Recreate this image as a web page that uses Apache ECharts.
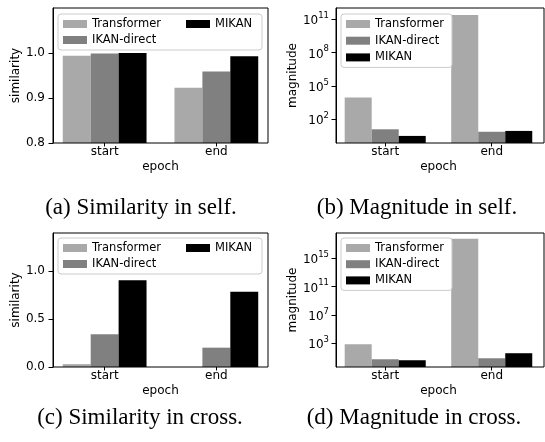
<!DOCTYPE html>
<html>
<head>
<meta charset="utf-8">
<script src="https://cdn.jsdelivr.net/npm/echarts@6/dist/echarts.min.js"></script>
<style>
html,body{margin:0;padding:0;background:#fff;}
#chart{width:545px;height:442px;}
</style>
</head>
<body>
<div id="chart"></div>
<script>
// ---------- data ----------
const categories = ['start', 'end'];
const seriesNames = ['Transformer', 'IKAN-direct', 'MIKAN'];

const selfSimilarityTransformer = [0.994, 0.923];
const selfSimilarityIkan = [0.999, 0.959];
const selfSimilarityMikan = [1.0, 0.993];

const selfMagnitudeTransformer = [9000, 2.4e11];
const selfMagnitudeIkan = [12.6, 7.6];
const selfMagnitudeMikan = [3.2, 9];

const crossSimilarityTransformer = [0.03, 0.0];
const crossSimilarityIkan = [0.342, 0.202];
const crossSimilarityMikan = [0.907, 0.785];

const crossMagnitudeTransformer = [720, 5.4e17];
const crossMagnitudeIkan = [5.5, 7.6];
const crossMagnitudeMikan = [4, 39];

const selfSimilarityTicks = [0.8, 0.9, 1.0];
const crossSimilarityTicks = [0.0, 0.5, 1.0];
const selfMagnitudeTicks = [1e2, 1e5, 1e8, 1e11];
const crossMagnitudeTicks = [1e3, 1e7, 1e11, 1e15];

const captions = ['(a) Similarity in self.', '(b) Magnitude in self.', '(c) Similarity in cross.', '(d) Magnitude in cross.'];

// ---------- styling / layout ----------
const colors = ['#a9a9a9', '#808080', '#000000'];
const FONT = 'DejaVu Sans';

const panels = [
  { frame: [53, 8, 215, 135], type: 'value', min: 0.8, max: 1.1, ticks: selfSimilarityTicks, name: 'similarity', nameGap: 24,
    values: [selfSimilarityTransformer, selfSimilarityIkan, selfSimilarityMikan],
    legend: { left: 58, top: 14, twoCol: true }, caption: [141, 208] },
  { frame: [336, 8, 208, 135], type: 'log', min: 0.74, max: 1e12, ticks: selfMagnitudeTicks, name: 'magnitude', nameGap: 27,
    values: [selfMagnitudeTransformer, selfMagnitudeIkan, selfMagnitudeMikan],
    legend: { left: 341, top: 14, twoCol: false, gap: 2.7 }, caption: [417, 208] },
  { frame: [53, 233, 215, 134], type: 'value', min: 0, max: 1.4, ticks: crossSimilarityTicks, name: 'similarity', nameGap: 24,
    values: [crossSimilarityTransformer, crossSimilarityIkan, crossSimilarityMikan],
    legend: { left: 58, top: 238, twoCol: true }, caption: [140, 418] },
  { frame: [336, 233, 208, 134], type: 'log', min: 0.447, max: 3.4e18, ticks: crossMagnitudeTicks, name: 'magnitude', nameGap: 27,
    values: [crossMagnitudeTransformer, crossMagnitudeIkan, crossMagnitudeMikan],
    legend: { left: 341, top: 238, twoCol: false, gap: 2.2 }, caption: [414, 418] }
];

const grid = [], xAxis = [], yAxis = [], series = [], legend = [], graphic = [];

panels.forEach((p, i) => {
  const [L, T, W, H] = p.frame;
  const unit = W / 1.925;
  const bx = L - 0.0375 * unit;
  const bw = W + 0.075 * unit;
  grid.push({ left: L, top: T, width: W, height: H, show: true, borderColor: '#000', borderWidth: 1, backgroundColor: 'transparent', z: 5 });
  grid.push({ left: bx, top: T, width: bw, height: H, show: false });

  xAxis.push({ gridIndex: 2 * i, type: 'value', min: 0, max: 1, show: false });
  xAxis.push({
    gridIndex: 2 * i + 1, type: 'category', data: categories,
    axisLine: { show: false },
    axisTick: { show: true, alignWithLabel: true, length: 3.5, lineStyle: { color: '#000', width: 1 } },
    axisLabel: { fontFamily: FONT, fontSize: 12, color: '#000', margin: 3 },
    name: 'epoch', nameLocation: 'middle', nameGap: 18,
    nameTextStyle: { fontFamily: FONT, fontSize: 12, color: '#000' }
  });

  const isLog = p.type === 'log';
  const labelFmt = isLog
    ? (v) => '{b|10}{s|' + Math.round(Math.log10(v)) + '}'
    : (v) => v.toFixed(1);

  yAxis.push({
    gridIndex: 2 * i, type: p.type, logBase: 10, min: p.min, max: p.max,
    axisLine: { show: true, lineStyle: { color: '#000', width: 1 } },
    axisTick: { show: true, length: 4.5, customValues: p.ticks, lineStyle: { color: '#000', width: 1 } },
    axisLabel: {
      customValues: p.ticks, formatter: labelFmt, margin: isLog ? 7 : 8,
      fontFamily: FONT, fontSize: 12, color: '#000',
      rich: {
        b: { fontFamily: FONT, fontSize: 12, color: '#000', lineHeight: 16, verticalAlign: 'bottom' },
        s: { fontFamily: FONT, fontSize: 8.5, color: '#000', lineHeight: 16, verticalAlign: 'top' }
      }
    },
    splitLine: { show: false }, minorTick: { show: false },
    name: p.name, nameLocation: 'middle', nameGap: p.nameGap,
    nameTextStyle: { fontFamily: FONT, fontSize: 12, color: '#000' },
    z: 5
  });
  const barY = { gridIndex: 2 * i + 1, type: p.type, logBase: 10, min: p.min, max: p.max, show: false, splitLine: { show: false } };
  if (isLog) barY.startValue = p.min;
  yAxis.push(barY);

  seriesNames.forEach((name, k) => {
    series.push({
      type: 'bar', name: name, xAxisIndex: 2 * i + 1, yAxisIndex: 2 * i + 1,
      data: p.values[k], barWidth: 0.25 * unit, barGap: '0%',
      itemStyle: { color: colors[k] }, emphasis: { disabled: true }, z: 2
    });
  });

  const lg = {
    left: p.legend.left, top: p.legend.top, orient: 'vertical',
    icon: 'rect', itemWidth: 24, itemHeight: 8,
    padding: [3, 5, 3, 5],
    backgroundColor: 'rgba(255,255,255,0.85)', borderColor: '#cccccc', borderWidth: 1, borderRadius: 3,
    textStyle: { fontFamily: FONT, fontSize: 11.5, color: '#000', lineHeight: 14 },
    selectedMode: false, z: 10
  };
  if (p.legend.twoCol) {
    lg.height = 40;
    lg.itemGap = 2;
    lg.data = [
      { name: seriesNames[0], textStyle: { width: 92 } },
      { name: seriesNames[1], textStyle: { width: 92 } },
      { name: seriesNames[2], textStyle: { width: 42 } }
    ];
  } else {
    lg.itemGap = p.legend.gap;
    lg.data = seriesNames.map(n => ({ name: n, textStyle: { width: 72 } }));
  }
  legend.push(lg);

  graphic.push({
    type: 'text', x: p.caption[0], y: p.caption[1],
    style: { text: captions[i], fontFamily: 'Liberation Serif', fontSize: 23, fill: '#000', textAlign: 'center', textVerticalAlign: 'middle' }
  });
});

const chart = echarts.init(document.getElementById('chart'), null, { renderer: 'canvas' });
chart.setOption({
  animation: false,
  backgroundColor: '#fff',
  grid, xAxis, yAxis, series, legend, graphic
});
</script>
</body>
</html>
